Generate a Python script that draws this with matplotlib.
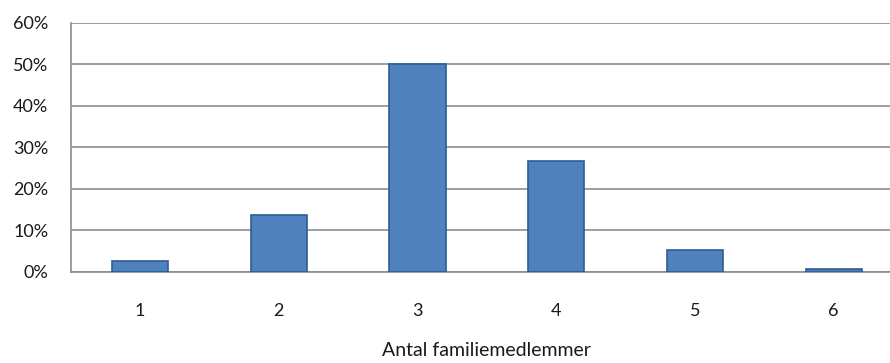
import matplotlib.pyplot as plt
from matplotlib.ticker import PercentFormatter

# Data
categories = ['1', '2', '3', '4', '5', '6']
shares = [2.6, 13.8, 50.0, 26.8, 5.2, 0.8]

plt.rcParams['font.family'] = ['Lato', 'DejaVu Sans']

fig = plt.figure(figsize=(8.9, 3.63), dpi=100)
# plot area runs past the right edge of the image (clipped like the original)
ax = fig.add_axes([70.6 / 890, 1 - 272 / 363, (903 - 70.6) / 890, (272 - 22.7) / 363])

x = range(len(categories))
ax.bar(x, shares, width=0.405, color='#4F81BD', edgecolor='#2C5C96', linewidth=1.2, zorder=3)

ax.set_xlim(-0.5, len(categories) - 0.5)
ax.set_ylim(0, 60)
ax.set_yticks(range(0, 61, 10))
ax.yaxis.set_major_formatter(PercentFormatter(decimals=0))
ax.set_xticks(list(x))
ax.set_xticklabels(categories)

ax.grid(axis='y', color='#8C8C8C', linewidth=1.2, zorder=0)
for side in ['top', 'right']:
    ax.spines[side].set_visible(False)
for side in ['left', 'bottom']:
    ax.spines[side].set_color('#8C8C8C')
    ax.spines[side].set_linewidth(1.2)

ax.tick_params(axis='y', length=0, pad=16, labelsize=13, labelcolor='#1a1a1a')
ax.tick_params(axis='x', length=0, pad=22, labelsize=13, labelcolor='#1a1a1a')

ax.set_xlabel('Antal familiemedlemmer', fontsize=14, labelpad=17, color='#1a1a1a')

fig.savefig('out.png', dpi=100)
